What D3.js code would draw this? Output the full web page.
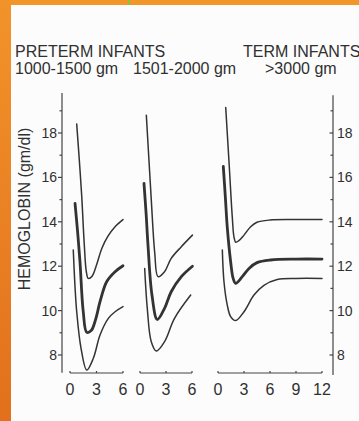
<!DOCTYPE html>
<html>
<head>
    <meta charset="utf-8">
    <title>Hemoglobin in infants</title>
    <script src="https://d3js.org/d3.v7.min.js"></script>
    <style>
        html, body { margin: 0; padding: 0; background: #fcfcfc; }
        svg { display: block; }
        text { font-family: "Liberation Sans", Arial, sans-serif; fill: #303030; }
        .curve { fill: none; stroke: #333; stroke-linecap: round; stroke-linejoin: round; }
        .axis { stroke: #444; stroke-width: 1.2; fill: none; }
    </style>
</head>
<body>
<svg width="359" height="421"></svg>
<script>
    // month, hemoglobin (gm/dl)
    var smallUpper = [[0.76,18.4],[1.05,16.8],[1.32,15.2],[1.62,12.95],[1.85,11.75],[2.07,11.45],[2.5,11.55],[3.0,12.05],[3.6,12.8],[4.3,13.35],[5.1,13.78],[6,14.1]];
    var smallMid   = [[0.57,14.83],[0.85,13.6],[1.13,12.2],[1.5,9.95],[1.9,9.02],[2.4,9.1],[2.9,9.6],[3.4,10.4],[4.15,11.3],[5.1,11.75],[6,12.02]];
    var smallLow   = [[0.37,12.73],[0.55,11.2],[0.76,9.95],[1.25,8.3],[1.9,7.32],[2.64,7.85],[3.4,8.9],[4.34,9.65],[5.1,9.95],[6,10.18]];

    var midUpper = [[0.73,18.8],[1.0,17.0],[1.3,15.0],[1.7,12.6],[2.08,11.53],[2.83,11.75],[3.6,12.35],[4.77,12.88],[6.05,13.4]];
    var midMid   = [[0.46,15.73],[0.7,14.4],[0.92,12.96],[1.38,10.7],[2.0,9.6],[2.83,10.1],[3.6,10.85],[4.77,11.53],[6.05,12.0]];
    var midLow   = [[0.54,11.9],[0.84,10.1],[1.3,8.6],[1.88,8.18],[2.83,8.6],[3.98,9.65],[5.85,10.7]];

    var termUpper = [[0.89,19.15],[1.3,16.5],[1.65,14.2],[1.85,13.3],[2.05,13.08],[2.4,13.15],[3.0,13.4],[3.77,13.78],[4.5,13.98],[6,14.08],[9,14.1],[12,14.1]];
    var termMid   = [[0.61,16.5],[0.85,15.1],[1.08,13.7],[1.46,12.2],[1.75,11.45],[2.04,11.23],[2.8,11.53],[3.58,11.9],[4.5,12.16],[6.08,12.28],[9,12.32],[12,12.32]];
    var termLow   = [[0.5,12.73],[0.69,11.3],[1.07,10.25],[1.46,9.73],[2.04,9.55],[3.0,9.95],[4.15,10.7],[5.3,11.14],[6.84,11.4],[9,11.45],[12,11.45]];

    var hbTicks = [8, 10, 12, 14, 16, 18];
    var monthTicksPreterm = [0, 3, 6];
    var monthTicksTerm = [0, 3, 6, 9, 12];

    var svg = d3.select("svg");

    // frame
    var grad = svg.append("defs").append("linearGradient")
        .attr("id", "side").attr("x1", 0).attr("y1", 0).attr("x2", 0).attr("y2", 1);
    grad.append("stop").attr("offset", "0%").attr("stop-color", "#f2932a");
    grad.append("stop").attr("offset", "100%").attr("stop-color", "#e2701c");
    svg.append("rect").attr("x", 0).attr("y", 0).attr("width", 359).attr("height", 5).attr("fill", "#f3962a");
    svg.append("rect").attr("x", 0).attr("y", 0).attr("width", 11).attr("height", 421).attr("fill", "url(#side)");
    svg.append("rect").attr("x", 128).attr("y", 0).attr("width", 2).attr("height", 5).attr("fill", "#8fc23a");

    var y = d3.scaleLinear().domain([8, 18]).range([355, 133]);

    // headings
    var head = svg.append("g").attr("font-size", 16);
    head.append("text").attr("x", 15).attr("y", 57).text("PRETERM INFANTS");
    head.append("text").attr("x", 15).attr("y", 74).text("1000-1500 gm");
    head.append("text").attr("x", 133).attr("y", 74).text("1501-2000 gm");
    head.append("text").attr("x", 243).attr("y", 57).text("TERM INFANTS");
    head.append("text").attr("x", 265).attr("y", 74).text(">3000 gm");

    svg.append("text")
        .attr("transform", "translate(30,209) rotate(-90)")
        .attr("text-anchor", "middle")
        .attr("font-size", 16)
        .text("HEMOGLOBIN (gm/dl)");

    // left axis
    var minor = d3.range(8, 20);
    svg.append("line").attr("class", "axis")
        .attr("x1", 62).attr("x2", 62).attr("y1", y(19.8)).attr("y2", y(7.2));
    svg.selectAll(".ltick").data(minor).join("line").attr("class", "axis ltick")
        .attr("x1", d => d % 2 ? 59.5 : 58).attr("x2", 62)
        .attr("y1", d => y(d)).attr("y2", d => y(d));
    svg.selectAll(".llab").data(hbTicks).join("text").attr("class", "llab")
        .attr("x", 57).attr("y", d => y(d) + 5)
        .attr("text-anchor", "end").attr("font-size", 14)
        .text(d => d);

    // right axis
    svg.append("line").attr("class", "axis")
        .attr("x1", 333).attr("x2", 333).attr("y1", y(19.7)).attr("y2", y(7.1));
    svg.selectAll(".rtick").data(minor).join("line").attr("class", "axis rtick")
        .attr("x1", 333).attr("x2", d => d % 2 ? 330.5 : 329.5)
        .attr("y1", d => y(d)).attr("y2", d => y(d));
    svg.selectAll(".rlab").data(hbTicks).join("text").attr("class", "rlab")
        .attr("x", 337).attr("y", d => y(d) + 5)
        .attr("font-size", 14)
        .text(d => d);

    var panels = [
        { r: [70, 123], max: 6, ticks: monthTicksPreterm, curves: [smallUpper, smallMid, smallLow] },
        { r: [140, 192], max: 6, ticks: monthTicksPreterm, curves: [midUpper, midMid, midLow] },
        { r: [218, 322], max: 12, ticks: monthTicksTerm, curves: [termUpper, termMid, termLow] }
    ];

    panels.forEach(function(p) {
        var x = d3.scaleLinear().domain([0, p.max]).range(p.r);
        var g = svg.append("g");

        g.append("line").attr("class", "axis")
            .attr("x1", x(0)).attr("x2", x(p.max)).attr("y1", 373).attr("y2", 373);
        g.selectAll(".btick").data(p.ticks).join("line").attr("class", "axis btick")
            .attr("x1", d => x(d)).attr("x2", d => x(d)).attr("y1", 373).attr("y2", 371);
        g.selectAll(".blab").data(p.ticks).join("text")
            .attr("x", d => x(d)).attr("y", 395)
            .attr("text-anchor", "middle").attr("font-size", 16)
            .text(d => d);

        var line = d3.line()
            .x(d => x(d[0]))
            .y(d => y(d[1]))
            .curve(d3.curveCatmullRom.alpha(0.5));

        p.curves.forEach(function(c, i) {
            g.append("path").attr("class", "curve")
                .attr("stroke-width", i === 1 ? 2.8 : 1.5)
                .attr("d", line(c));
        });
    });
</script>
</body>
</html>
